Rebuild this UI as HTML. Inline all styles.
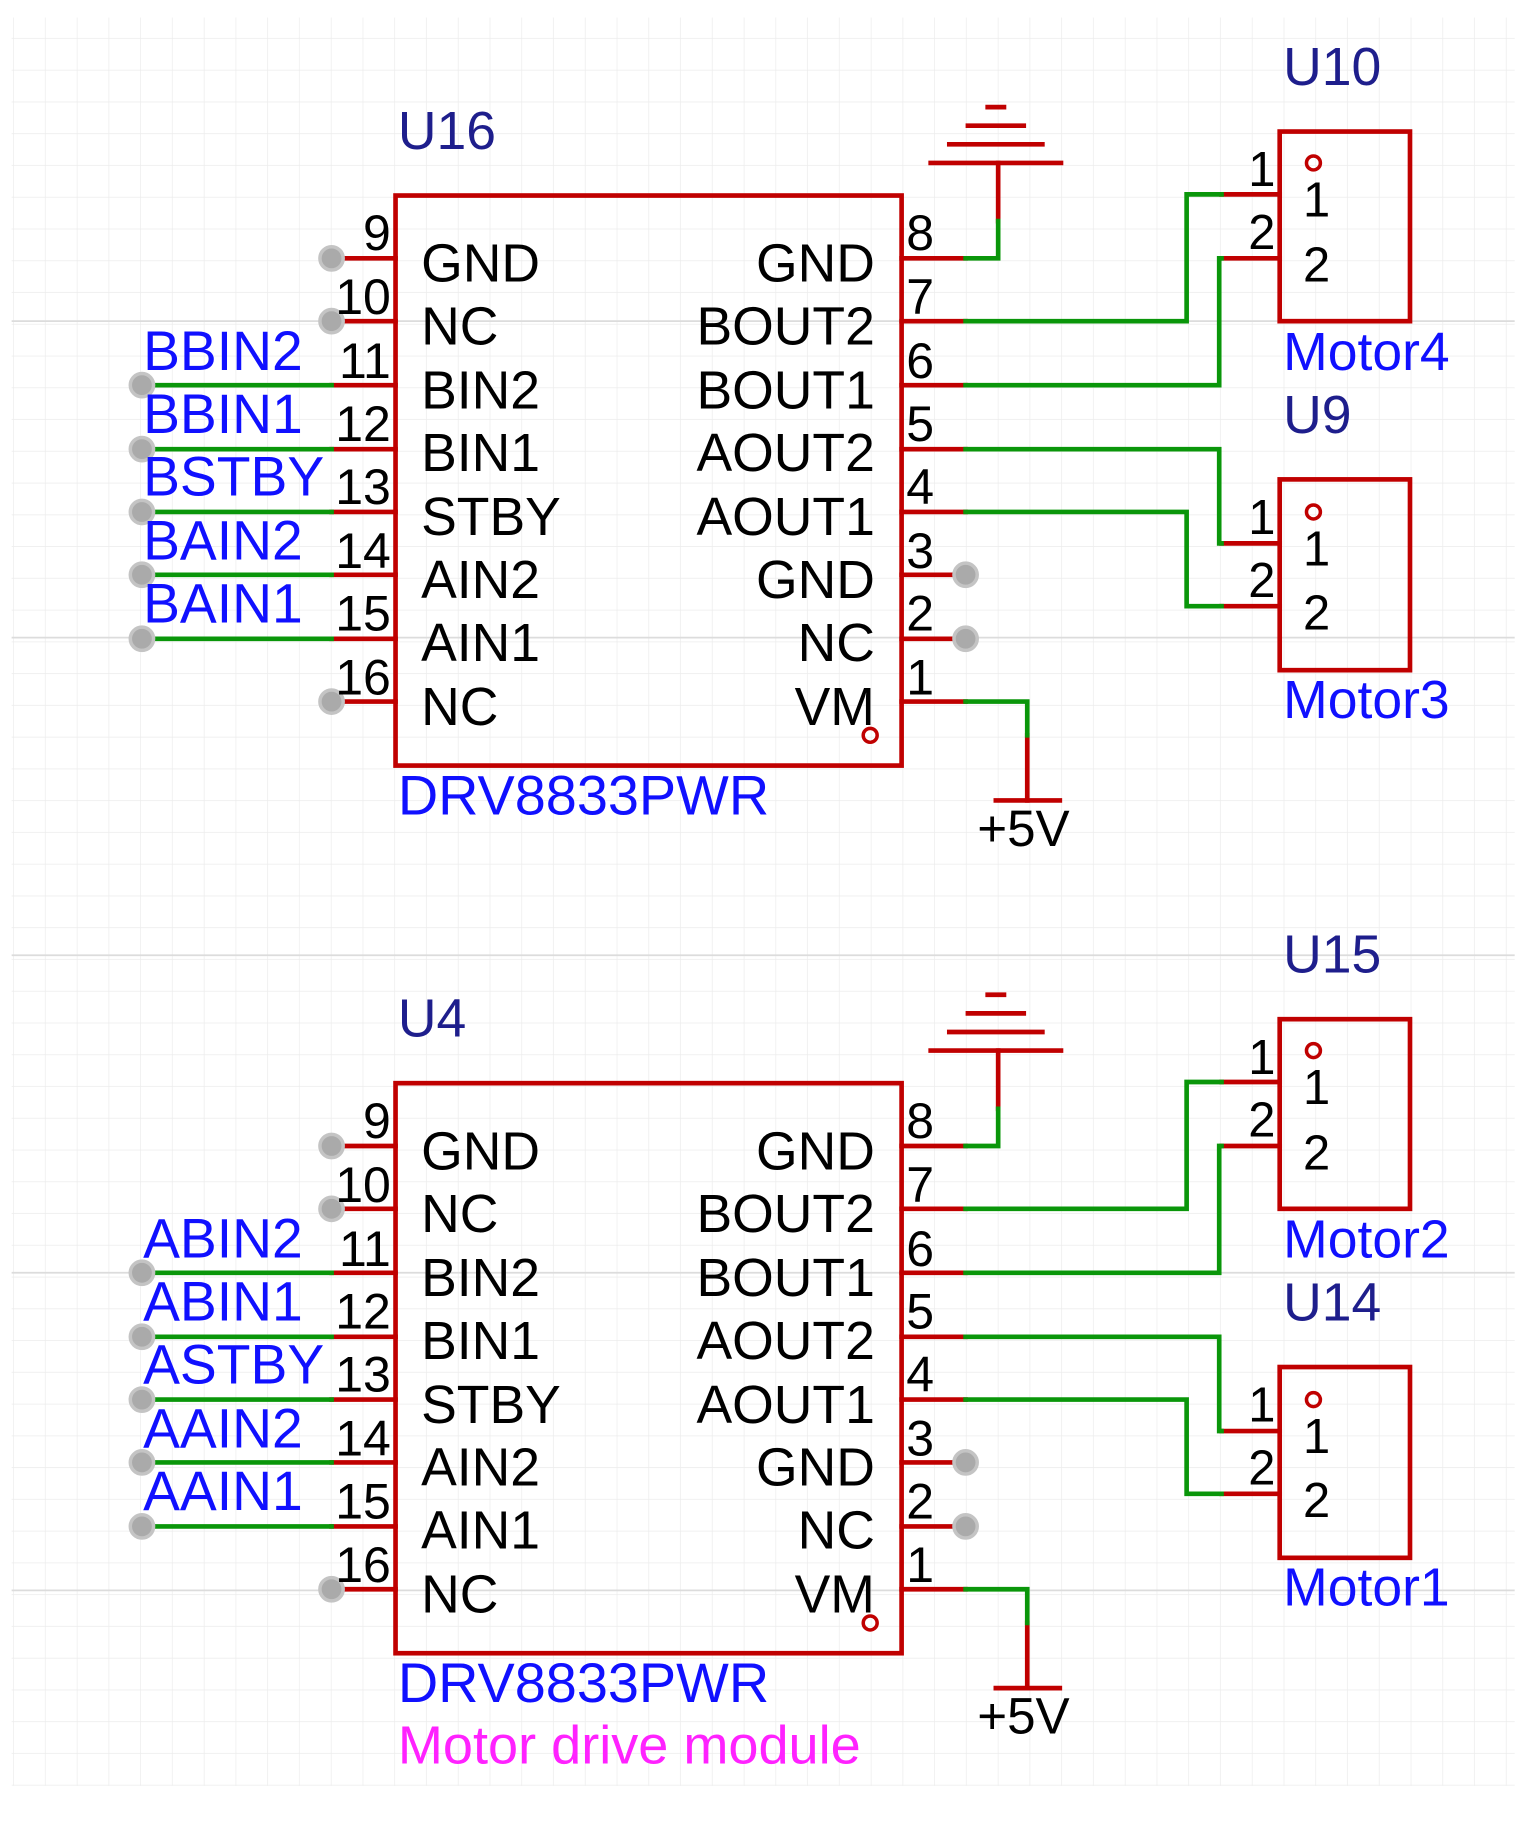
<!DOCTYPE html>
<html><head><meta charset="utf-8"><style>
html,body{margin:0;padding:0;background:#fff;}
svg{display:block;}
text{font-family:"Liberation Sans",Arial,sans-serif;}
</style></head><body>
<svg width="1524" height="1822" viewBox="0 0 1310 1566" xmlns="http://www.w3.org/2000/svg">
<defs>
<pattern id="g" x="12" y="6" width="27.3" height="27.3" patternUnits="userSpaceOnUse">
<path d="M27.3 0V27.3M0 27.3H27.3" stroke="#ececec" stroke-width="1.2" fill="none"/>
</pattern>
</defs>
<rect x="10" y="15" width="1292" height="1520" fill="url(#g)"/>
<g stroke="#dcdcdc" stroke-width="1.5"><line x1="10" y1="276" x2="1302" y2="276"/><line x1="10" y1="548" x2="1302" y2="548"/><line x1="10" y1="821" x2="1302" y2="821"/><line x1="10" y1="1094" x2="1302" y2="1094"/><line x1="10" y1="1367" x2="1302" y2="1367"/></g>

<!-- TOP -->
<g id="top">
<g fill="none" stroke-linecap="square">
<rect x="340" y="168" width="435" height="490" stroke="#c00000" stroke-width="4"/>
<g stroke="#c00000" stroke-width="4">
<line x1="285" y1="222" x2="340" y2="222"/><line x1="285" y1="276" x2="340" y2="276"/><line x1="285" y1="331" x2="340" y2="331"/><line x1="285" y1="386" x2="340" y2="386"/><line x1="285" y1="440" x2="340" y2="440"/><line x1="285" y1="494" x2="340" y2="494"/><line x1="285" y1="549" x2="340" y2="549"/><line x1="285" y1="603" x2="340" y2="603"/>
<line x1="775" y1="222" x2="830" y2="222"/><line x1="775" y1="276" x2="830" y2="276"/><line x1="775" y1="331" x2="830" y2="331"/><line x1="775" y1="386" x2="830" y2="386"/><line x1="775" y1="440" x2="830" y2="440"/><line x1="775" y1="494" x2="830" y2="494"/><line x1="775" y1="549" x2="830" y2="549"/><line x1="775" y1="603" x2="830" y2="603"/>
<line x1="858" y1="190" x2="858" y2="140"/>
<line x1="800" y1="140" x2="912" y2="140"/><line x1="816" y1="124" x2="896" y2="124"/><line x1="832" y1="108" x2="880" y2="108"/><line x1="849" y1="92" x2="863" y2="92"/>
<line x1="883" y1="632" x2="883" y2="688"/><line x1="856" y1="688" x2="911" y2="688"/>
<rect x="1100" y="113" width="112" height="163" stroke-width="4"/>
<rect x="1100" y="412" width="112" height="164" stroke-width="4"/>
<line x1="1050" y1="167" x2="1100" y2="167"/><line x1="1050" y1="222" x2="1100" y2="222"/>
<line x1="1050" y1="467" x2="1100" y2="467"/><line x1="1050" y1="521" x2="1100" y2="521"/>
</g>
<g stroke="#0a960a" stroke-width="4">
<line x1="122" y1="331" x2="285" y2="331"/><line x1="122" y1="386" x2="285" y2="386"/><line x1="122" y1="440" x2="285" y2="440"/><line x1="122" y1="494" x2="285" y2="494"/><line x1="122" y1="549" x2="285" y2="549"/>
<polyline points="830,222 858,222 858,190"/>
<polyline points="830,276 1020,276 1020,167 1050,167"/>
<polyline points="830,331 1048,331 1048,222 1050,222"/>
<polyline points="830,386 1048,386 1048,467 1050,467"/>
<polyline points="830,440 1020,440 1020,521 1050,521"/>
<polyline points="830,603 883,603 883,632"/>
</g>
<g fill="#aaa" stroke="#c4c4c4" stroke-width="3">
<circle cx="285" cy="222" r="10"/><circle cx="285" cy="276" r="10"/><circle cx="285" cy="603" r="10"/>
<circle cx="122" cy="331" r="10"/><circle cx="122" cy="386" r="10"/><circle cx="122" cy="440" r="10"/><circle cx="122" cy="494" r="10"/><circle cx="122" cy="549" r="10"/>
<circle cx="830" cy="494" r="10"/><circle cx="830" cy="549" r="10"/>
</g>
<g stroke="#c00000" stroke-width="3"><circle cx="748" cy="632" r="6"/><circle cx="1129" cy="140" r="6"/><circle cx="1129" cy="440" r="6"/></g>
</g>
<g font-size="46" fill="#000">
<g text-anchor="end" font-size="43"><text x="336" y="215">9</text><text x="336" y="270">10</text><text x="336" y="325">11</text><text x="336" y="379">12</text><text x="336" y="433">13</text><text x="336" y="488">14</text><text x="336" y="542">15</text><text x="336" y="597">16</text></g>
<g font-size="43"><text x="779" y="215">8</text><text x="779" y="270">7</text><text x="779" y="325">6</text><text x="779" y="379">5</text><text x="779" y="433">4</text><text x="779" y="488">3</text><text x="779" y="542">2</text><text x="779" y="597">1</text></g>
<text x="362" y="242">GND</text><text x="362" y="296">NC</text><text x="362" y="351">BIN2</text><text x="362" y="405">BIN1</text><text x="362" y="460">STBY</text><text x="362" y="514">AIN2</text><text x="362" y="568">AIN1</text><text x="362" y="623">NC</text>
<g text-anchor="end"><text x="752" y="242">GND</text><text x="752" y="296">BOUT2</text><text x="752" y="351">BOUT1</text><text x="752" y="405">AOUT2</text><text x="752" y="460">AOUT1</text><text x="752" y="514">GND</text><text x="752" y="568">NC</text><text x="752" y="623">VM</text></g>
<g font-size="42"><text x="1073" y="160">1</text><text x="1073" y="214">2</text><text x="1120" y="186">1</text><text x="1120" y="242">2</text>
<text x="1073" y="459">1</text><text x="1073" y="513">2</text><text x="1120" y="486">1</text><text x="1120" y="541">2</text></g>
<text x="840" y="727" font-size="44">+5V</text>
</g>
<g font-size="46" fill="#1e1e8c"><text x="342" y="128">U16</text><text x="1103" y="73">U10</text><text x="1103" y="372">U9</text></g>
<g fill="#1010ff"><text x="342" y="700" font-size="48">DRV8833PWR</text><text x="1103" y="318" font-size="46">Motor4</text><text x="1103" y="617" font-size="46">Motor3</text></g>
</g>

<!-- BOTTOM -->
<g transform="translate(0,763)">
<g fill="none" stroke-linecap="square">
<rect x="340" y="168" width="435" height="490" stroke="#c00000" stroke-width="4"/>
<g stroke="#c00000" stroke-width="4">
<line x1="285" y1="222" x2="340" y2="222"/><line x1="285" y1="276" x2="340" y2="276"/><line x1="285" y1="331" x2="340" y2="331"/><line x1="285" y1="386" x2="340" y2="386"/><line x1="285" y1="440" x2="340" y2="440"/><line x1="285" y1="494" x2="340" y2="494"/><line x1="285" y1="549" x2="340" y2="549"/><line x1="285" y1="603" x2="340" y2="603"/>
<line x1="775" y1="222" x2="830" y2="222"/><line x1="775" y1="276" x2="830" y2="276"/><line x1="775" y1="331" x2="830" y2="331"/><line x1="775" y1="386" x2="830" y2="386"/><line x1="775" y1="440" x2="830" y2="440"/><line x1="775" y1="494" x2="830" y2="494"/><line x1="775" y1="549" x2="830" y2="549"/><line x1="775" y1="603" x2="830" y2="603"/>
<line x1="858" y1="190" x2="858" y2="140"/>
<line x1="800" y1="140" x2="912" y2="140"/><line x1="816" y1="124" x2="896" y2="124"/><line x1="832" y1="108" x2="880" y2="108"/><line x1="849" y1="92" x2="863" y2="92"/>
<line x1="883" y1="632" x2="883" y2="688"/><line x1="856" y1="688" x2="911" y2="688"/>
<rect x="1100" y="113" width="112" height="163" stroke-width="4"/>
<rect x="1100" y="412" width="112" height="164" stroke-width="4"/>
<line x1="1050" y1="167" x2="1100" y2="167"/><line x1="1050" y1="222" x2="1100" y2="222"/>
<line x1="1050" y1="467" x2="1100" y2="467"/><line x1="1050" y1="521" x2="1100" y2="521"/>
</g>
<g stroke="#0a960a" stroke-width="4">
<line x1="122" y1="331" x2="285" y2="331"/><line x1="122" y1="386" x2="285" y2="386"/><line x1="122" y1="440" x2="285" y2="440"/><line x1="122" y1="494" x2="285" y2="494"/><line x1="122" y1="549" x2="285" y2="549"/>
<polyline points="830,222 858,222 858,190"/>
<polyline points="830,276 1020,276 1020,167 1050,167"/>
<polyline points="830,331 1048,331 1048,222 1050,222"/>
<polyline points="830,386 1048,386 1048,467 1050,467"/>
<polyline points="830,440 1020,440 1020,521 1050,521"/>
<polyline points="830,603 883,603 883,632"/>
</g>
<g fill="#aaa" stroke="#c4c4c4" stroke-width="3">
<circle cx="285" cy="222" r="10"/><circle cx="285" cy="276" r="10"/><circle cx="285" cy="603" r="10"/>
<circle cx="122" cy="331" r="10"/><circle cx="122" cy="386" r="10"/><circle cx="122" cy="440" r="10"/><circle cx="122" cy="494" r="10"/><circle cx="122" cy="549" r="10"/>
<circle cx="830" cy="494" r="10"/><circle cx="830" cy="549" r="10"/>
</g>
<g stroke="#c00000" stroke-width="3"><circle cx="748" cy="632" r="6"/><circle cx="1129" cy="140" r="6"/><circle cx="1129" cy="440" r="6"/></g>
</g>
<g font-size="46" fill="#000">
<g text-anchor="end" font-size="43"><text x="336" y="215">9</text><text x="336" y="270">10</text><text x="336" y="325">11</text><text x="336" y="379">12</text><text x="336" y="433">13</text><text x="336" y="488">14</text><text x="336" y="542">15</text><text x="336" y="597">16</text></g>
<g font-size="43"><text x="779" y="215">8</text><text x="779" y="270">7</text><text x="779" y="325">6</text><text x="779" y="379">5</text><text x="779" y="433">4</text><text x="779" y="488">3</text><text x="779" y="542">2</text><text x="779" y="597">1</text></g>
<text x="362" y="242">GND</text><text x="362" y="296">NC</text><text x="362" y="351">BIN2</text><text x="362" y="405">BIN1</text><text x="362" y="460">STBY</text><text x="362" y="514">AIN2</text><text x="362" y="568">AIN1</text><text x="362" y="623">NC</text>
<g text-anchor="end"><text x="752" y="242">GND</text><text x="752" y="296">BOUT2</text><text x="752" y="351">BOUT1</text><text x="752" y="405">AOUT2</text><text x="752" y="460">AOUT1</text><text x="752" y="514">GND</text><text x="752" y="568">NC</text><text x="752" y="623">VM</text></g>
<g font-size="42"><text x="1073" y="160">1</text><text x="1073" y="214">2</text><text x="1120" y="186">1</text><text x="1120" y="242">2</text>
<text x="1073" y="459">1</text><text x="1073" y="513">2</text><text x="1120" y="486">1</text><text x="1120" y="541">2</text></g>
<text x="840" y="727" font-size="44">+5V</text>
</g>
<g font-size="46" fill="#1e1e8c"><text x="342" y="128">U4</text><text x="1103" y="73">U15</text><text x="1103" y="372">U14</text></g>
<g fill="#1010ff"><text x="342" y="700" font-size="48">DRV8833PWR</text><text x="1103" y="318" font-size="46">Motor2</text><text x="1103" y="617" font-size="46">Motor1</text></g>
<text x="342" y="753" font-size="46.5" fill="#ff22ff">Motor drive module</text>
</g>

<!-- net labels -->
<g font-size="47.5" fill="#1010ff">
<text x="123" y="318">BBIN2</text><text x="123" y="372">BBIN1</text><text x="123" y="426">BSTBY</text><text x="123" y="481">BAIN2</text><text x="123" y="535">BAIN1</text>
<text x="123" y="1081">ABIN2</text><text x="123" y="1135">ABIN1</text><text x="123" y="1189">ASTBY</text><text x="123" y="1244">AAIN2</text><text x="123" y="1298">AAIN1</text>
</g>
</svg>
</body></html>
